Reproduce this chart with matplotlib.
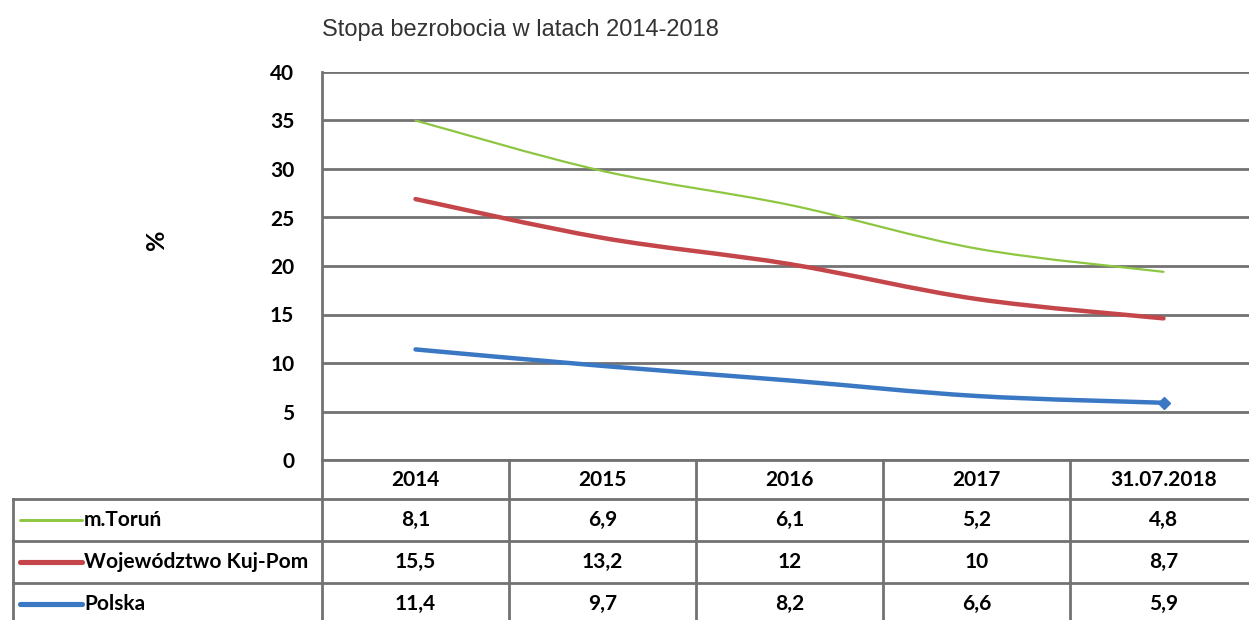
import numpy as np
import matplotlib
matplotlib.use("Agg")
import matplotlib.pyplot as plt
from matplotlib.path import Path
from matplotlib.patches import PathPatch

TITLE = "Stopa bezrobocia w latach 2014-2018"
periods = ["2014", "2015", "2016", "2017", "31.07.2018"]
series = ["m.Toruń", "Województwo Kuj-Pom", "Polska"]
torun = [8.1, 6.9, 6.1, 5.2, 4.8]
kujpom = [15.5, 13.2, 12, 10, 8.7]
polska = [11.4, 9.7, 8.2, 6.6, 5.9]
labels = {
    "m.Toruń": ["8,1", "6,9", "6,1", "5,2", "4,8"],
    "Województwo Kuj-Pom": ["15,5", "13,2", "12", "10", "8,7"],
    "Polska": ["11,4", "9,7", "8,2", "6,6", "5,9"],
}
colors = {"m.Toruń": "#8dc641", "Województwo Kuj-Pom": "#c4464a", "Polska": "#3a78c4"}
widths = {"m.Toruń": 1.6, "Województwo Kuj-Pom": 3.2, "Polska": 3.2}

FONT = "Lato"
FS = 15
GRID = "#727272"
W, H = 1249, 620


def smooth_path(x, y):
    # Excel-style smoothed line as cubic bezier segments
    x = np.asarray(x, float); y = np.asarray(y, float)
    px = np.concatenate([[x[0]], x, [x[-1]]])
    py = np.concatenate([[y[0]], y, [y[-1]]])
    verts = [(x[0], y[0])]; codes = [Path.MOVETO]
    for i in range(1, len(x)):
        c1 = (px[i] + (px[i + 1] - px[i - 1]) / 6, py[i] + (py[i + 1] - py[i - 1]) / 6)
        c2 = (px[i + 1] - (px[i + 2] - px[i]) / 6, py[i + 1] - (py[i + 2] - py[i]) / 6)
        verts += [c1, c2, (x[i], y[i])]
        codes += [Path.CURVE4] * 3
    return Path(verts, codes)


fig = plt.figure(figsize=(W / 100, H / 100), dpi=100)
fig.patch.set_facecolor("white")

# plot area (extends past right edge like the source crop)
x0, colw = 322, 187
ax = fig.add_axes([x0 / W, (H - 460) / H, 5 * colw / W, 388 / H])
ax.set_xlim(-0.5, 4.5)
ax.set_ylim(0, 40)
ax.set_yticks(range(0, 41, 5))
ax.set_xticks([])
ax.yaxis.grid(True, color=GRID, lw=2)
ax.set_axisbelow(True)
for s in ["top", "right", "bottom"]:
    ax.spines[s].set_visible(False)
ax.spines["left"].set_color(GRID)
ax.spines["left"].set_linewidth(2)
ax.tick_params(axis="y", length=0, pad=20)
for t in ax.get_yticklabels():
    t.set_fontfamily(FONT); t.set_fontweight("bold"); t.set_fontsize(FS)
ax.set_ylabel("%", fontfamily=FONT, fontweight="bold", fontsize=18)
ax.yaxis.set_label_coords(-0.165, 0.567)

# stacked lines
xs = np.arange(len(periods))
base = np.array(polska, float)
mid = base + np.array(kujpom)
top = mid + np.array(torun)
for name, vals in [("Polska", base), ("Województwo Kuj-Pom", mid), ("m.Toruń", top)]:
    ax.add_patch(PathPatch(smooth_path(xs, vals), fill=False, ec=colors[name],
                           lw=widths[name], capstyle="round", zorder=3))
ax.plot(xs[-1], base[-1], "D", ms=6, color=colors["Polska"], zorder=4)

fig.text(x0 / W, 1 - 30 / H, TITLE, fontfamily="Liberation Sans", fontsize=17,
         color="#333333", va="center", ha="left")

# data table below the axis
tab = fig.add_axes([0, 0, 1, 1])
tab.set_xlim(0, W); tab.set_ylim(H, 0); tab.axis("off")
rows_y = [460, 499, 541, 583, 625]
right = x0 + 5 * colw
tab.plot([x0, right], [rows_y[0]] * 2, color=GRID, lw=2)
for yy in rows_y[1:4]:
    tab.plot([13, right], [yy, yy], color=GRID, lw=2)
tab.plot([13, 13], [rows_y[1], H], color=GRID, lw=2)
tab.plot([x0, x0], [rows_y[0], H], color=GRID, lw=2)
for i in range(1, 5):
    tab.plot([x0 + i * colw] * 2, [rows_y[0], H], color=GRID, lw=2)

for i, p in enumerate(periods):
    tab.text(x0 + (i + 0.5) * colw, (rows_y[0] + rows_y[1]) / 2, p, ha="center",
             va="center", fontfamily=FONT, fontweight="bold", fontsize=FS)
for r, name in enumerate(series):
    yc = (rows_y[r + 1] + rows_y[r + 2]) / 2
    tab.plot([20, 82], [yc, yc], color=colors[name], lw=widths[name] + 0.5,
             solid_capstyle="round")
    tab.text(84, yc, name, ha="left", va="center", fontfamily=FONT,
             fontweight="bold", fontsize=FS)
    for i, lab in enumerate(labels[name]):
        tab.text(x0 + (i + 0.5) * colw, yc, lab, ha="center", va="center",
                 fontfamily=FONT, fontweight="bold", fontsize=FS)

fig.savefig("out.png", dpi=100)
